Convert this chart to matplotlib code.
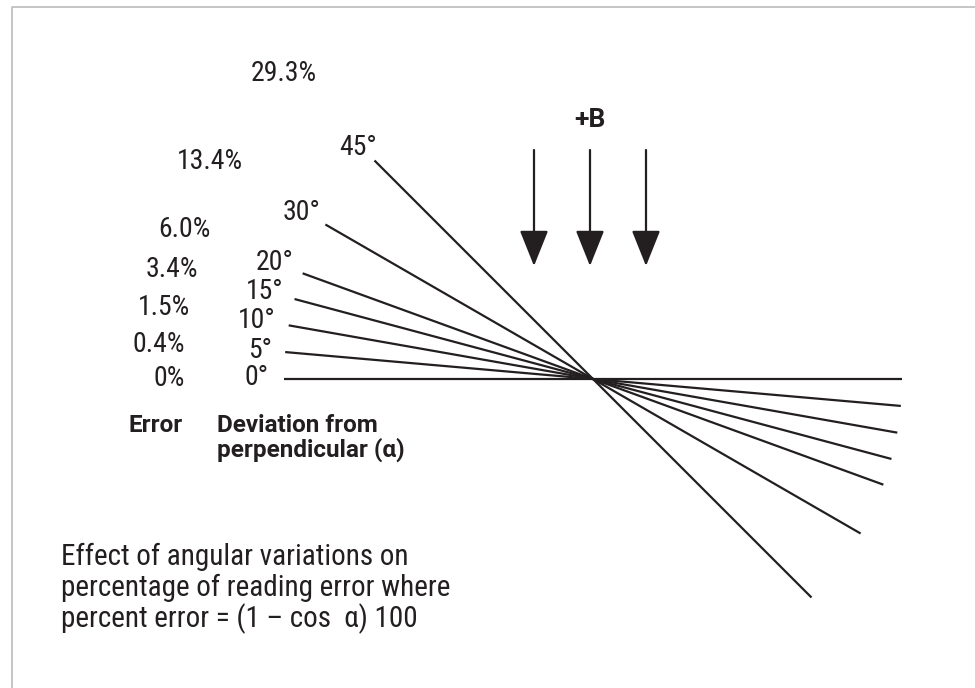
import numpy as np
import matplotlib
matplotlib.use("Agg")
import matplotlib.pyplot as plt
from matplotlib import font_manager
from matplotlib.patches import FancyArrowPatch

# data
angles = [0, 5, 10, 15, 20, 30, 45]
angle_labels = ["0°", "5°", "10°", "15°", "20°", "30°", "45°"]
error_labels = ["0%", "0.4%", "1.5%", "3.4%", "6.0%", "13.4%", "29.3%"]
field_label = "+B"
col_error = "Error"
col_dev = "Deviation from\nperpendicular (α)"
note_lines = ["Effect of angular variations on",
              "percentage of reading error where",
              "percent error = (1 – cos  α) 100"]

# layout (pixels)
W, H = 975, 688
cx, cy = 593, 379
radius = 309
angle_lab_pos = [(269, 385), (272, 358), (276, 328), (284, 299),
                 (294, 270), (320, 220), (377, 155)]
error_lab_pos = [(185, 386), (185, 352), (190, 315), (198, 277),
                 (211, 237), (243, 169), (317, 81)]
arrow_x = [534, 590, 646]

names = {f.name for f in font_manager.fontManager.ttflist}
FONT = "Lato"
for cand in ["Roboto Condensed", "Liberation Sans Narrow", "Open Sans Condensed", "Lato"]:
    if cand in names:
        FONT = cand
        break
plt.rcParams['font.family'] = [FONT, 'DejaVu Sans']
BOLD = ['Roboto', 'DejaVu Sans']

fig = plt.figure(figsize=(W / 100, H / 100), dpi=100)
ax = fig.add_axes([0, 0, 1, 1])
ax.set_xlim(0, W)
ax.set_ylim(H, 0)
ax.axis("off")

# frame
ax.plot([12, 12, W], [H, 7, 7], color="#bbbbbb", lw=1.2)

ink = "#231f20"

# fan of lines through the center
for a in angles:
    t = np.radians(a)
    dx, dy = radius * np.cos(t), radius * np.sin(t)
    ax.plot([cx - dx, cx + dx], [cy - dy, cy + dy], color=ink, lw=1.6,
            solid_capstyle="butt")

for lab, (x, y) in zip(angle_labels, angle_lab_pos):
    ax.text(x, y, lab, ha="right", va="baseline", fontsize=20, color=ink)

for lab, (x, y) in zip(error_labels, error_lab_pos):
    ax.text(x, y, lab, ha="right", va="baseline", fontsize=20, color=ink)

ax.text(128, 432, col_error, ha="left", va="baseline", fontsize=17.5,
        fontweight="bold", family=BOLD, color=ink)
dev = col_dev.split("\n")
ax.text(217, 432, dev[0], ha="left", va="baseline", fontsize=17.5,
        fontweight="bold", family=BOLD, color=ink)
ax.text(217, 457, dev[1], ha="left", va="baseline", fontsize=17.5,
        fontweight="bold", family=BOLD, color=ink)

# field arrows
for x in arrow_x:
    ax.add_patch(FancyArrowPatch((x, 150), (x, 266),
                                 arrowstyle="-|>,head_length=14,head_width=5.6",
                                 mutation_scale=1.6, color=ink, lw=1.6,
                                 shrinkA=0, shrinkB=0))
ax.text(590, 127, field_label, ha="center", va="baseline", fontsize=19,
        fontweight="bold", family=BOLD, color=ink)

for i, line in enumerate(note_lines):
    ax.text(61, 565 + 31 * i, line, ha="left", va="baseline", fontsize=21,
            color=ink)

fig.savefig("out.png", dpi=100)
